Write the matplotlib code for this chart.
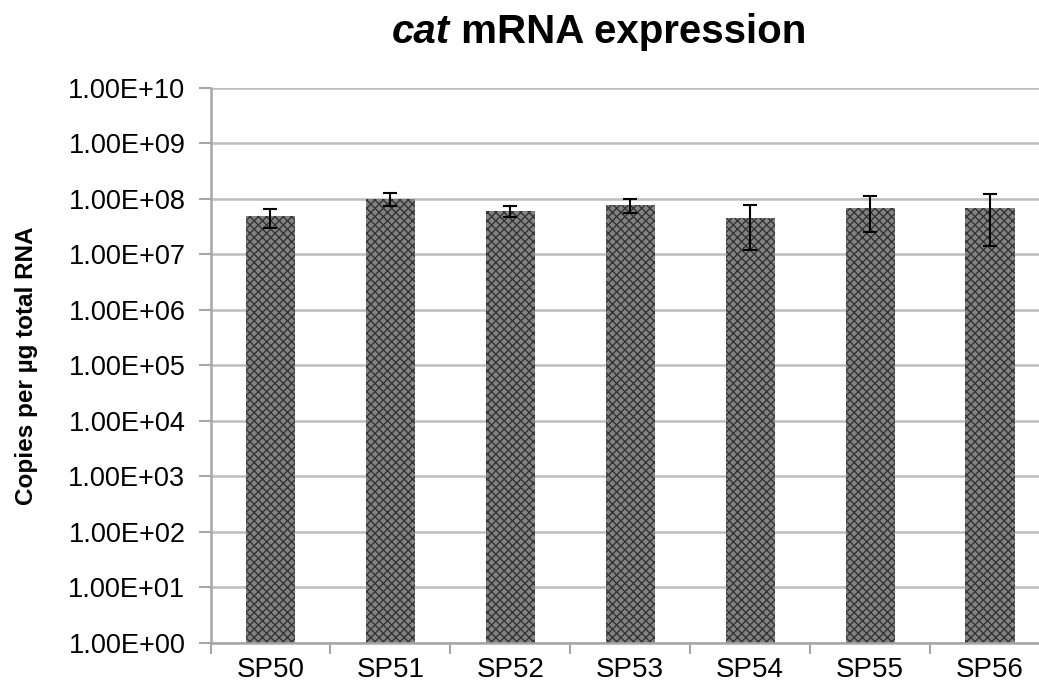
import matplotlib
matplotlib.use("Agg")
import matplotlib.pyplot as plt
import numpy as np

categories = ["SP50", "SP51", "SP52", "SP53", "SP54", "SP55", "SP56"]
values = [4.8e7, 1.0e8, 6.0e7, 7.7e7, 4.4e7, 6.8e7, 6.8e7]
errors = [1.8e7, 2.6e7, 1.4e7, 2.3e7, 3.2e7, 4.3e7, 5.4e7]
ytick_vals = [10.0 ** k for k in range(0, 11)]
ytick_labels = ["1.00E+%02d" % k for k in range(0, 11)]

plt.rcParams['font.family'] = ['Liberation Sans', 'DejaVu Sans']
plt.rcParams['hatch.linewidth'] = 1.0

W, H = 1039, 698
fig = plt.figure(figsize=(W / 100, H / 100), dpi=100)
left, right, top, bottom = 210.5, 1050, 87.5, 643
ax = fig.add_axes([left / W, 1 - bottom / H, (right - left) / W, (bottom - top) / H])

x = np.arange(len(categories))
ax.bar(x, values, width=0.41, color='#828282', edgecolor='#353535', hatch='xxxx',
       linewidth=0, zorder=2)
ax.errorbar(x, values, yerr=errors, fmt='none', ecolor='black', elinewidth=1.5,
            capsize=5, capthick=1.5, zorder=3)

ax.set_yscale('log')
ax.set_ylim(1, 1e10)
ax.set_xlim(-0.5, len(categories) - 0.5)
ax.set_yticks(ytick_vals)
ax.set_yticklabels(ytick_labels, fontsize=19.5)
ax.yaxis.set_minor_locator(matplotlib.ticker.NullLocator())
ax.set_xticks(x)
ax.set_xticklabels(categories, fontsize=20)
ax.set_xticks(np.arange(len(categories) + 1) - 0.5, minor=True)
ax.tick_params(axis='x', which='major', length=0, pad=10)
ax.tick_params(axis='x', which='minor', length=8, width=1.5, color='#a6a6a6', direction='out')
ax.tick_params(axis='y', which='major', length=9, width=1.5, color='#a6a6a6', direction='out', pad=9)

ax.grid(axis='y', color='#bdbdbd', linewidth=1.8, zorder=0)
ax.set_axisbelow(True)
for s in ['top', 'right']:
    ax.spines[s].set_visible(False)
for s in ['left', 'bottom']:
    ax.spines[s].set_color('#a6a6a6')
    ax.spines[s].set_linewidth(1.8)

ax.set_ylabel("Copies per µg total RNA", fontsize=17.5, fontweight='bold', labelpad=22)

# Title: italic bold "cat" + bold " mRNA expression"
fig.canvas.draw()
r = fig.canvas.get_renderer()
t1 = fig.text(0, 1 - 32 / H, "cat", fontsize=29, fontweight='bold', fontstyle='italic',
              ha='left', va='center')
t2 = fig.text(0, 1 - 32 / H, " mRNA expression", fontsize=29, fontweight='bold',
              ha='left', va='center')
w1 = t1.get_window_extent(r).width
w2 = t2.get_window_extent(r).width
cx = 599
start = cx - (w1 + w2) / 2
t1.set_x(start / W)
t2.set_x((start + w1) / W)

fig.savefig("out.png", dpi=100)
